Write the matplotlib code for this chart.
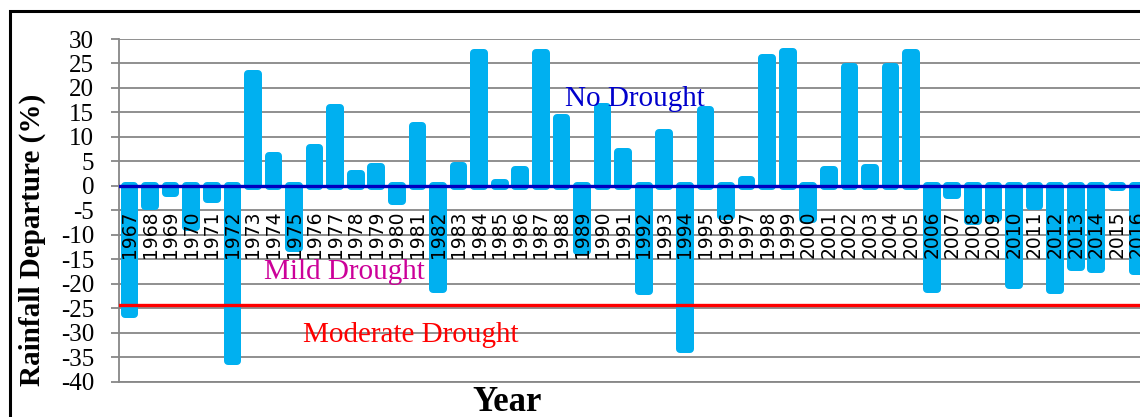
import matplotlib.pyplot as plt
from matplotlib.patches import Rectangle

plt.rcParams['axes.unicode_minus'] = False

years = list(range(1967, 2017))
departure = [-26.2, -4.1, -1.4, -8.5, -2.7, -35.8, 22.85, 6.0, -12.6, 7.7,
             15.9, 2.4, 3.8, -3.1, 12.2, -21.1, 4.1, 27.1, 0.6, 3.3,
             27.1, 13.9, -13.3, 16.2, 6.9, -21.5, 10.9, -33.4, 15.5, -6.1,
             1.1, 26.1, 27.3, -6.8, 3.3, 24.3, 3.7, 24.3, 27.1, -21.1,
             -1.9, -7.2, -6.5, -20.3, -4.1, -21.3, -16.5, -16.9, -0.3, -17.4]
no_drought = 0
moderate_line = -24.4

serif = 'Liberation Serif'
bar_c = '#00B0F0'
grid_c = '#878787'

fig = plt.figure(figsize=(11.4, 4.17), dpi=100)
# axes run past the right edge, the screenshot cuts them off
ax = fig.add_axes([119.2 / 1140, 35.3 / 417, 50 * 20.57 / 1140, 342.7 / 417])

x = list(range(len(years)))
ax.bar(x, departure, width=0.47, color=bar_c, edgecolor=bar_c,
       linewidth=5.76, joinstyle='round', zorder=2)

ax.axhline(no_drought, color='#0000C0', lw=2.4, zorder=3)
ax.axhline(moderate_line, color='#FF0000', lw=2.4, zorder=3)

for i, yr in zip(x, years):
    ax.text(i, -5.1, str(yr), rotation=90, ha='center', va='top',
            fontsize=13.5, family='DejaVu Sans', zorder=4)

ax.text(24.55, 16.4, 'No Drought', color='#0000CC', fontsize=21,
        family=serif, ha='center', va='baseline', zorder=4)
ax.text(10.43, -19.1, 'Mild Drought', color='#CC0099', fontsize=21,
        family=serif, ha='center', va='baseline', zorder=4)
ax.text(13.66, -31.8, 'Moderate Drought', color='#FF0000', fontsize=21,
        family=serif, ha='center', va='baseline', zorder=4)

ax.set_xlim(-0.5, len(years) - 0.5)
ax.set_ylim(-40, 30)
ax.set_yticks(range(-40, 31, 5))
ax.set_xticks([])
ax.yaxis.grid(True, color=grid_c, lw=1.3)
ax.set_axisbelow(True)
ax.tick_params(axis='y', direction='out', length=6, width=1.3, color=grid_c,
               pad=12, labelsize=18)
for lab in ax.get_yticklabels():
    lab.set_family(serif)
for s in ['top', 'right']:
    ax.spines[s].set_visible(False)
for s in ['left', 'bottom']:
    ax.spines[s].set_color(grid_c)
    ax.spines[s].set_linewidth(1.3)

fig.text(32 / 1140, (417 - 240) / 417, 'Rainfall Departure (%)', rotation=90,
         ha='center', va='center', fontsize=21, fontweight='bold', family=serif)
fig.text(507 / 1140, 6 / 417, 'Year', ha='center', va='baseline',
         fontsize=25, fontweight='bold', family=serif)

fig.add_artist(Rectangle((10 / 1140, -0.1), 2, (417 - 11) / 417 + 0.1,
                         transform=fig.transFigure, fill=False,
                         edgecolor='black', lw=2.2))

fig.savefig('out.png', dpi=100)
